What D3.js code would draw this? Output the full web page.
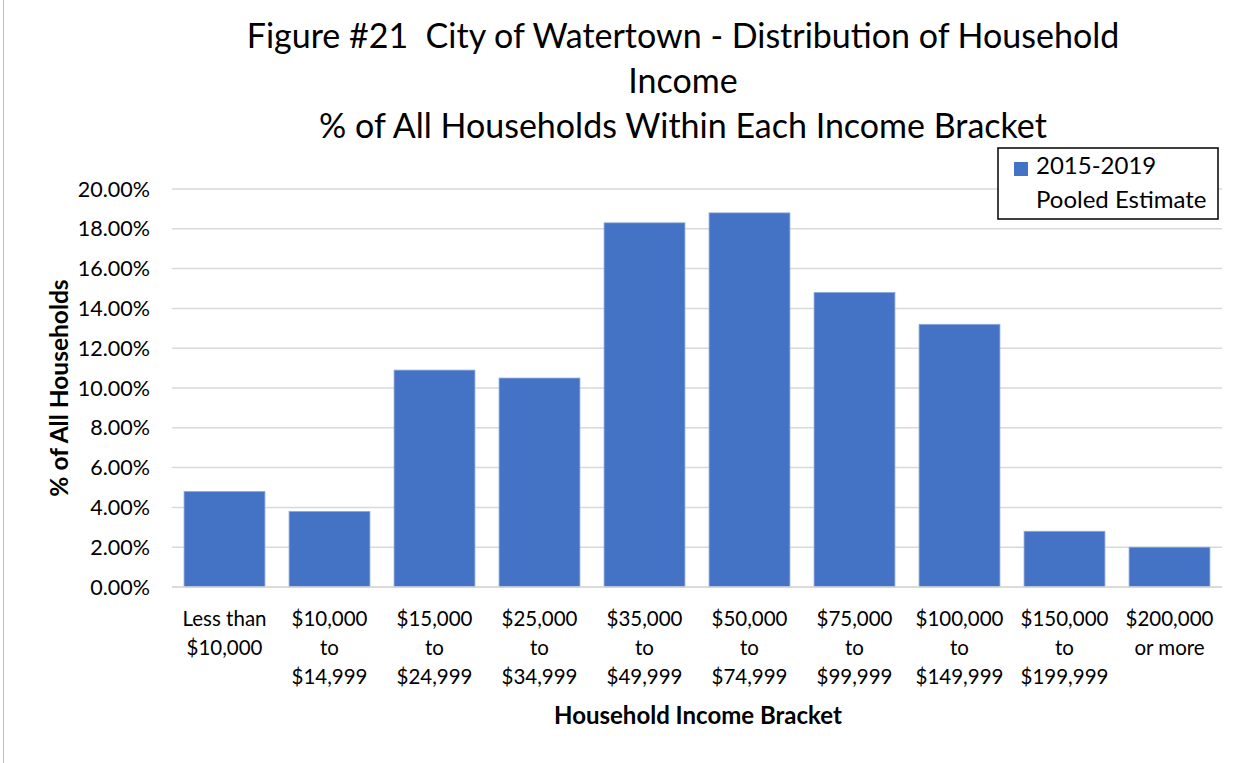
<!DOCTYPE html>
<html><head><meta charset="utf-8">
<script src="https://cdn.jsdelivr.net/npm/d3@7"></script>
<style>body{margin:0;background:#fff}svg{display:block}text{font-family:Lato,"Open Sans",sans-serif;white-space:pre}</style>
</head><body>
<svg id="c" width="1252" height="763"></svg>
<script>
const categories = [
  ["Less than","$10,000"],["$10,000","to","$14,999"],["$15,000","to","$24,999"],["$25,000","to","$34,999"],
  ["$35,000","to","$49,999"],["$50,000","to","$74,999"],["$75,000","to","$99,999"],["$100,000","to","$149,999"],
  ["$150,000","to","$199,999"],["$200,000","or more"]
];
const values = [4.8, 3.8, 10.9, 10.5, 18.3, 18.8, 14.8, 13.2, 2.8, 2.0];
const yTicks = [0,2,4,6,8,10,12,14,16,18,20];
const seriesName = ["2015-2019","Pooled Estimate"];
const titleLines = ["Figure #21  City of Watertown - Distribution of Household","Income","% of All Households Within Each Income Bracket"];

(function(){
const svg = d3.select("#c");
svg.append("rect").attr("x",3.5).attr("y",-1).attr("width",1260).attr("height",770)
  .attr("fill","none").attr("stroke","#bfbfbf").attr("stroke-width",1);

const pL=172, pR=1222, pT=189, pB=587;
const x = d3.scaleBand().domain(d3.range(values.length)).range([pL,pR]).paddingInner(0.23).paddingOuter(0.115);
const y = d3.scaleLinear().domain([0,20]).range([pB,pT]);

svg.append("g").selectAll("line").data(yTicks).join("line")
  .attr("x1",pL).attr("x2",pR).attr("y1",d=>y(d)).attr("y2",d=>y(d))
  .attr("stroke","#d9d9d9").attr("stroke-width",1.5);

svg.append("g").selectAll("text").data(yTicks).join("text")
  .attr("x",150).attr("y",d=>y(d)).attr("dy","0.35em").attr("text-anchor","end")
  .attr("font-size",21.5).attr("fill","#000").text(d=>d3.format(".2f")(d)+"%");

svg.append("g").selectAll("rect").data(values).join("rect")
  .attr("x",(d,i)=>x(i)).attr("width",x.bandwidth())
  .attr("y",d=>y(d)).attr("height",d=>pB-y(d))
  .attr("fill","#4472C4").attr("stroke","#8fa9dc").attr("stroke-width",0.8);

svg.append("line").attr("x1",pL).attr("x2",pR).attr("y1",pB).attr("y2",pB)
  .attr("stroke","#d9d9d9").attr("stroke-width",1.5);

const xl = svg.append("g").selectAll("text").data(categories).join("text")
  .attr("text-anchor","middle").attr("font-size",20.5).attr("fill","#000")
  .attr("transform",(d,i)=>`translate(${x(i)+x.bandwidth()/2},626)`);
xl.selectAll("tspan").data(d=>d).join("tspan").attr("x",0).attr("y",(d,j)=>j*29).text(d=>d);

svg.append("text").attr("x",698).attr("y",724).attr("text-anchor","middle")
  .attr("font-size",24).attr("font-weight","bold").text("Household Income Bracket");
svg.append("text").attr("transform","translate(68,388) rotate(-90)").attr("text-anchor","middle")
  .attr("font-size",24.5).attr("font-weight","bold").text("% of All Households");

svg.append("g").selectAll("text").data(titleLines).join("text")
  .attr("x",683).attr("y",(d,i)=>48+i*45).attr("text-anchor","middle")
  .attr("font-size",34).attr("fill","#000").text(d=>d);

const lg = svg.append("g");
lg.append("rect").attr("x",998).attr("y",148).attr("width",220).attr("height",71)
  .attr("fill","#fff").attr("stroke","#000").attr("stroke-width",1.5);
lg.append("rect").attr("x",1014).attr("y",162).attr("width",14).attr("height",14).attr("fill","#4472C4");
lg.selectAll("text.l").data(seriesName).join("text").attr("class","l")
  .attr("x",1036).attr("y",(d,i)=>174+i*34).attr("font-size",24).text(d=>d);
})();
</script>
</body></html>
